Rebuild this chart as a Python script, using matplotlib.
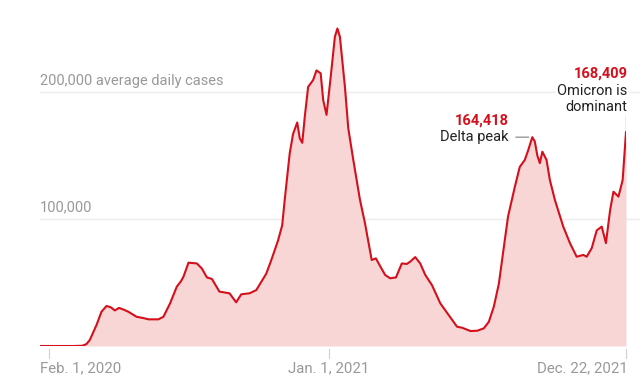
import matplotlib
matplotlib.use("Agg")
import matplotlib.pyplot as plt
import pandas as pd

# ---- data (days since Feb 1, 2020 ; 7-day average cases) ----
day_offsets = [-11, 30, 40, 45, 49, 57, 63, 69, 74, 79, 84, 90, 95, 105, 113, 119,
               131, 137, 145, 153, 158, 161, 167, 177, 183, 189, 195, 204, 216, 224,
               230, 240, 248, 260, 266, 274, 279, 282, 288, 292, 297, 300, 303, 306,
               310, 316, 320, 325, 328, 332, 337, 342, 345, 348, 354, 358, 364, 372,
               378, 386, 391, 396, 402, 408, 415, 422, 428, 432, 438, 444, 450, 458,
               468, 478, 488, 494, 504, 512, 520, 526, 532, 538, 544, 549, 557, 563,
               569, 573, 578, 581, 584, 587, 590, 595, 599, 605, 615, 623, 631, 639,
               643, 649, 655, 661, 666, 671, 675, 681, 686, 690]
cases = [0, 0, 200, 1500, 4700, 16500, 27000, 31500, 30500, 28000, 30000, 28500, 27000,
         23000, 22000, 21000, 21000, 23000, 33600, 46700, 51000, 54600, 65600, 65000,
         61000, 54000, 52800, 42800, 41500, 34400, 40700, 41500, 44000, 57000, 67700,
         83000, 95000, 115000, 151700, 167000, 176000, 163500, 160000, 180500, 204000,
         209400, 217000, 214700, 193700, 182000, 212000, 243500, 250000, 243500, 204000,
         171400, 146500, 115000, 96600, 67700, 69000, 63000, 56000, 53300, 54000, 65000,
         64600, 66400, 70000, 65000, 56000, 48000, 33600, 24400, 15200, 14400, 11800,
         12000, 13900, 19000, 31000, 49000, 78000, 102000, 125000, 141000, 146500,
         154000, 164418, 161000, 150000, 144000, 153000, 146500, 130700, 115000, 94000,
         81000, 70300, 71700, 70300, 77000, 91000, 94000, 81000, 107000, 121500, 117600,
         130700, 168409]
tick_dates = ["2020-02-01", "2021-01-01", "2021-12-22"]
tick_labels = ["Feb. 1, 2020", "Jan. 1, 2021", "Dec. 22, 2021"]
grid_values = [100000, 200000]
grid_labels = ["100,000", "200,000 average daily cases"]
delta_date, delta_value, delta_label = "2021-09-01", 164418, "164,418"
omi_date, omi_value, omi_label = "2021-12-22", 168409, "168,409"

dates = pd.Timestamp("2020-02-01") + pd.to_timedelta(day_offsets, unit="D")

FONT = "Roboto"
RED = "#d50f1c"
FILL = "#f8d6d6"
GRAYTXT = "#999999"

fig = plt.figure(figsize=(6.4, 3.87), dpi=100)
ax = fig.add_axes([39.6 / 640, (387 - 346) / 387, (626 - 39.6) / 640, 336 / 387])
ax.set_xlim(dates[0], pd.Timestamp("2021-12-22"))
ax.set_ylim(0, 336 / 1.27 * 1000)
for s in ax.spines.values():
    s.set_visible(False)
ax.set_xticks([])
ax.set_yticks([])

for v, lab in zip(grid_values, grid_labels):
    ax.axhline(v, xmin=0, xmax=1.024, color="#ececec", lw=1, clip_on=False, zorder=0)
    ax.text(dates[0], v + 3500, lab, fontsize=10.5, color=GRAYTXT, family=FONT,
            ha="left", va="bottom", zorder=1)

ax.fill_between(dates, cases, 0, color=FILL, lw=0, zorder=2)
ax.plot(dates, cases, color=RED, lw=1.5, zorder=3, solid_joinstyle="round")

# x ticks
has = ["left", "center", "right"]
for d, lab, ha in zip(tick_dates, tick_labels, has):
    t = pd.Timestamp(d)
    ax.plot([t, t], [-0.01, -0.035], transform=ax.get_xaxis_transform(),
            color="#d0d0d0", lw=0.8, clip_on=False)
    xpos = dates[0] if ha == "left" else t + pd.Timedelta(days=2) if ha == "right" else t
    ax.text(xpos, -0.066, lab, transform=ax.get_xaxis_transform(), ha=ha, va="center",
            fontsize=10.8, color=GRAYTXT, family=FONT)

# Delta annotation
td = pd.Timestamp(delta_date)
ax.annotate("", xy=(td - pd.Timedelta(days=1), delta_value),
            xytext=(td - pd.Timedelta(days=23), delta_value),
            arrowprops=dict(arrowstyle="-", color="#999999", lw=1))
ax.text(td - pd.Timedelta(days=28), delta_value, "Delta peak", ha="right", va="center",
        fontsize=10.5, color="#222222", family=FONT)
ax.text(td - pd.Timedelta(days=28), delta_value + 12800, delta_label, ha="right",
        va="center", fontsize=10.5, color=RED, family=FONT, weight="bold")

# Omicron annotation
to = pd.Timestamp(omi_date)
ax.plot([to, to], [omi_value + 500, omi_value + 13500], color="#999999", lw=1, zorder=4)
ax.text(to + pd.Timedelta(days=2), 194500, "Omicron is\ndominant", ha="right",
        va="center", fontsize=10.5, color="#222222", family=FONT, linespacing=1.1,
        bbox=dict(facecolor="white", edgecolor="none", pad=2), zorder=5)
ax.text(to + pd.Timedelta(days=2), 214200, omi_label, ha="right", va="center",
        fontsize=10.5, color=RED, family=FONT, weight="bold", zorder=5)

fig.savefig("out.png", dpi=100)
